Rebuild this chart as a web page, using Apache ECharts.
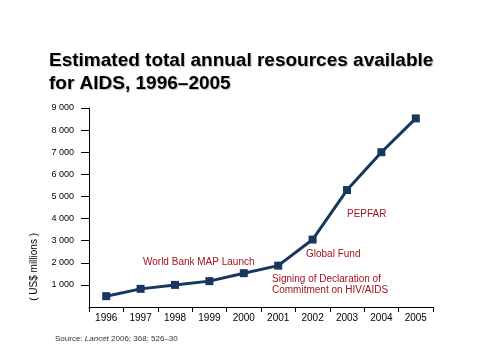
<!DOCTYPE html>
<html>
<head>
<meta charset="utf-8">
<script src="https://cdn.jsdelivr.net/npm/echarts@6/dist/echarts.min.js"></script>
<style>html,body{margin:0;padding:0;background:#fff;}#c{width:480px;height:360px;}</style>
</head>
<body>
<div id="c"></div>
<script>
var years = ['1996','1997','1998','1999','2000','2001','2002','2003','2004','2005'];
var resources = [490, 820, 1000, 1170, 1530, 1870, 3050, 5290, 7000, 8530];
var yTicks = [1000, 2000, 3000, 4000, 5000, 6000, 7000, 8000, 9000];
var annotations = ['World Bank MAP Launch', 'Global Fund', 'PEPFAR', 'Signing of Declaration of\nCommitment on HIV/AIDS'];

var chart = echarts.init(document.getElementById('c'), null, {renderer: 'canvas'});
var font = '"Liberation Sans", Arial, sans-serif';
var red = '#a0141e';
var navy = '#17375e';

chart.setOption({
  animation: false,
  backgroundColor: '#fff',
  title: {
    text: 'Estimated total annual resources available\nfor AIDS, 1996\u20132005',
    left: 44, top: 44,
    textStyle: {
      fontFamily: font, fontSize: 19, fontWeight: 'bold', color: '#000', lineHeight: 23,
      textShadowColor: 'rgba(0,0,0,0.25)', textShadowOffsetX: 1, textShadowOffsetY: 1.5, textShadowBlur: 1
    }
  },
  grid: {left: 89, right: 47, top: 108, bottom: 53, containLabel: false},
  xAxis: {
    type: 'category',
    data: years,
    boundaryGap: true,
    axisLine: {show: true, lineStyle: {color: '#000', width: 1}},
    axisTick: {show: true, length: 5, lineStyle: {color: '#000'}},
    axisLabel: {interval: 0, color: '#000', fontFamily: font, fontSize: 10, margin: 6},
    splitLine: {show: false}
  },
  yAxis: {
    type: 'value',
    min: 0, max: yTicks[yTicks.length - 1], interval: yTicks[0],
    axisLine: {show: true, lineStyle: {color: '#000', width: 1}},
    axisTick: {show: true, length: 8, lineStyle: {color: '#000'}},
    axisLabel: {
      showMinLabel: false, color: '#000', fontFamily: font, fontSize: 9, margin: 15,
      formatter: function (v) { return v === 0 ? '' : (Math.floor(v / 1000) + ' ' + '000'); }
    },
    splitLine: {show: false}
  },
  series: [{
    type: 'line',
    data: resources,
    symbol: 'rect',
    symbolSize: 8,
    lineStyle: {color: navy, width: 3},
    itemStyle: {color: navy},
    z: 3
  }],
  graphic: [
    {type: 'text', left: 29, top: 233, rotation: Math.PI / 2,
     style: {text: '( US$ millions )', font: '10px ' + font, fill: '#000'}},
    {type: 'text', left: 143, top: 257, style: {text: annotations[0], font: '10px ' + font, fill: red}},
    {type: 'text', left: 306, top: 249, style: {text: annotations[1], font: '10px ' + font, fill: red}},
    {type: 'text', left: 347, top: 209, style: {text: annotations[2], font: '10px ' + font, fill: red}},
    {type: 'text', left: 272, top: 274, style: {text: annotations[3], font: '10px ' + font, fill: red, lineHeight: 11}},
    {type: 'text', left: 55, top: 335,
     style: {
       text: '{n|Source: }{i|Lancet}{n| 2006; 368: 526\u201330}',
       rich: {
         n: {fontFamily: font, fontSize: 8, fill: '#333'},
         i: {fontFamily: font, fontSize: 8, fontStyle: 'italic', fill: '#333'}
       }
     }}
  ]
});
</script>
</body>
</html>
